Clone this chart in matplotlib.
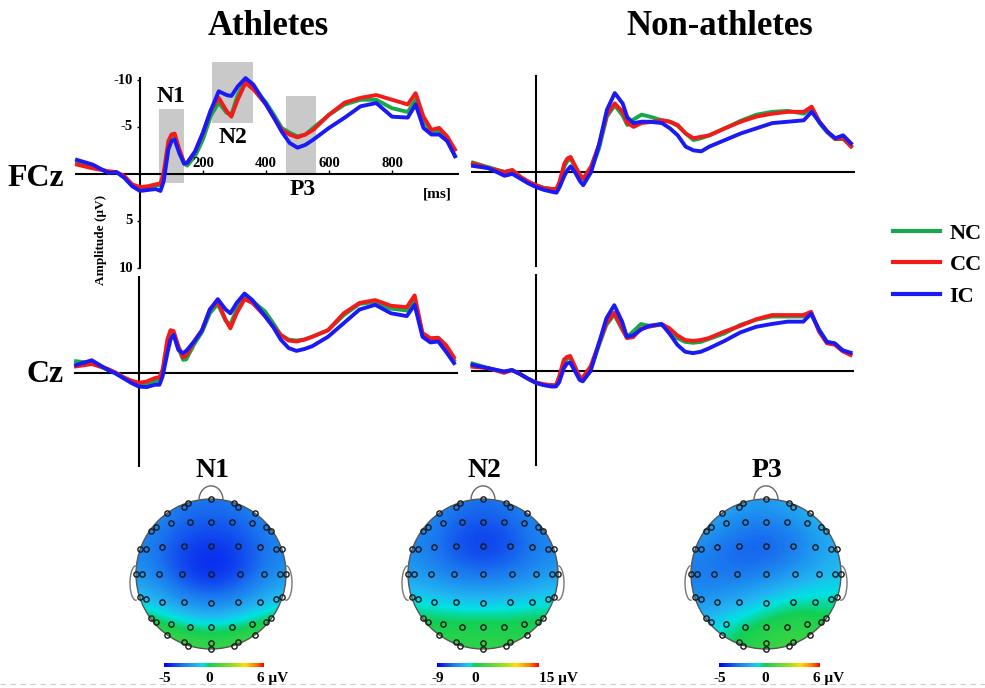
import numpy as np
import matplotlib
matplotlib.use('Agg')
from matplotlib import pyplot as plt
from matplotlib.patches import Rectangle, Circle
from matplotlib.colors import LinearSegmentedColormap, Normalize
from matplotlib.lines import Line2D

# ---- ERP data (microvolts) ----
time_ms = [-200, -150, -100, -75, -50, -25, 0, 25, 50, 65, 75, 90, 100, 110, 125, 140, 150, 175,
           200, 225, 250, 275, 290, 310, 335, 360, 400, 425, 450, 475, 500, 525, 550, 600, 650,
           700, 750, 800, 850, 875, 900, 925, 950, 975, 1000]

# Athletes, FCz
ath_fcz_nc = [-1.2, -0.8, -0.2, -0.2, 0.3, 1.2, 1.5, 1.4, 1.2, 1.2, 0.2, -3.0, -3.9, -4.0, -2.5, -1.1, -0.9, -1.9,
              -3.7, -6.2, -7.6, -6.5, -6.3, -8.4, -9.9, -9.2, -7.6, -6.3, -4.9, -4.4, -4.0, -4.2, -4.9, -6.3, -7.4,
              -7.9, -7.9, -7.0, -6.6, -7.9, -5.7, -4.5, -4.5, -3.8, -1.9]
ath_fcz_cc = [-1.0, -0.6, -0.3, -0.2, 0.2, 1.1, 1.4, 1.3, 1.1, 1.0, -0.1, -3.5, -4.2, -4.3, -2.6, -1.2, -1.2, -2.4,
              -4.4, -6.8, -8.1, -6.7, -6.1, -7.9, -9.7, -9.0, -7.4, -6.0, -4.7, -4.2, -3.9, -4.2, -4.7, -6.3, -7.6,
              -8.1, -8.4, -7.9, -7.4, -8.6, -6.1, -4.7, -4.9, -4.0, -2.6]
ath_fcz_ic = [-1.5, -1.0, -0.1, -0.2, 0.4, 1.3, 1.8, 1.7, 1.6, 1.8, 0.8, -2.6, -3.5, -3.65, -2.2, -1.1, -1.2, -2.4,
              -4.4, -6.8, -8.8, -8.4, -8.3, -9.3, -10.2, -9.5, -7.4, -6.0, -4.5, -3.3, -2.8, -3.1, -3.65, -4.9, -6.0,
              -7.2, -7.55, -6.1, -6.0, -7.4, -4.9, -4.2, -4.2, -3.5, -1.9]

# Non-athletes, FCz
non_fcz_nc = [-1.0, -0.5, 0.0, -0.2, 0.5, 1.1, 1.4, 1.7, 1.8, 1.8, 1.2, -0.6, -1.2, -1.4, -0.5, 0.5, 0.8, -0.2,
              -2.5, -5.9, -7.1, -6.0, -5.0, -5.6, -6.1, -5.9, -5.5, -5.35, -4.9, -4.1, -3.4, -3.6, -3.9, -4.65, -5.45,
              -6.1, -6.4, -6.5, -6.2, -6.8, -5.2, -4.2, -3.5, -3.5, -2.8]
non_fcz_cc = [-0.9, -0.4, 0.0, -0.2, 0.5, 1.0, 1.4, 1.7, 1.8, 1.8, 1.0, -0.9, -1.45, -1.6, -0.6, 0.3, 0.7, -0.6,
              -2.9, -6.1, -7.3, -6.4, -5.2, -4.8, -5.2, -5.3, -5.5, -5.35, -5.0, -4.1, -3.6, -3.75, -3.9, -4.65, -5.35,
              -5.9, -6.2, -6.4, -6.4, -6.95, -5.35, -4.3, -3.5, -3.6, -2.7]
non_fcz_ic = [-0.65, -0.4, 0.4, 0.2, 0.7, 1.2, 1.6, 1.9, 2.1, 2.2, 1.6, 0.4, -0.2, -0.6, 0.1, 1.0, 1.4, 0.0,
              -2.9, -6.6, -8.4, -7.3, -5.8, -5.2, -5.35, -5.35, -5.2, -4.65, -3.9, -2.7, -2.3, -2.2, -2.7, -3.4, -4.1,
              -4.65, -5.2, -5.35, -5.5, -6.4, -5.3, -4.3, -3.6, -3.9, -3.05]

# Athletes, Cz
ath_cz_nc = [-1.2, -1.0, -0.3, 0.0, 0.5, 0.95, 1.25, 1.2, 0.9, 0.9, 0.0, -3.0, -4.1, -4.1, -2.6, -1.35, -1.4, -3.0,
             -4.3, -6.3, -7.3, -5.5, -5.1, -6.7, -8.1, -7.6, -6.5, -5.3, -4.0, -3.5, -3.4, -3.5, -3.8, -4.5, -6.1,
             -7.3, -7.5, -6.8, -6.6, -7.6, -4.0, -3.5, -3.6, -2.7, -1.3]
ath_cz_cc = [-0.65, -0.9, -0.4, 0.0, 0.5, 0.85, 1.1, 0.95, 0.6, 0.5, -0.3, -3.5, -4.5, -4.4, -2.8, -1.6, -1.8, -3.3,
             -4.5, -6.7, -7.55, -5.6, -4.7, -6.3, -7.8, -7.4, -6.0, -4.9, -4.0, -3.4, -3.3, -3.5, -3.8, -4.5, -6.3,
             -7.4, -7.7, -7.1, -6.95, -8.2, -4.2, -3.65, -3.7, -2.9, -1.6]
ath_cz_ic = [-0.8, -1.3, -0.3, 0.1, 0.6, 1.1, 1.5, 1.55, 1.3, 1.3, 0.4, -2.05, -3.5, -4.0, -2.4, -2.05, -2.3, -3.3,
             -4.5, -6.7, -7.8, -6.7, -6.3, -7.4, -8.4, -7.7, -6.0, -4.9, -3.5, -2.6, -2.3, -2.5, -2.8, -3.8, -5.25,
             -6.7, -7.2, -6.3, -6.0, -7.2, -3.8, -3.2, -3.3, -2.2, -1.0]

# Non-athletes, Cz
non_cz_nc = [-0.8, -0.3, 0.1, -0.1, 0.3, 0.8, 1.2, 1.45, 1.55, 1.55, 0.8, -0.9, -1.3, -1.4, -0.4, 0.7, 0.9, -0.2,
             -2.6, -4.9, -6.0, -4.4, -3.6, -4.2, -5.0, -4.8, -4.9, -4.4, -3.5, -3.1, -3.0, -3.1, -3.4, -4.0, -4.9,
             -5.45, -5.8, -5.8, -5.8, -6.1, -4.4, -3.1, -2.9, -2.2, -1.8]
non_cz_cc = [-0.45, -0.3, 0.2, -0.1, 0.3, 0.8, 1.2, 1.4, 1.5, 1.5, 0.6, -1.2, -1.5, -1.6, -0.5, 0.6, 0.7, -0.5,
             -2.8, -5.1, -6.2, -4.55, -3.5, -3.6, -4.5, -4.7, -5.0, -4.55, -3.8, -3.3, -3.2, -3.3, -3.5, -4.2, -4.8,
             -5.5, -5.95, -5.95, -5.95, -6.3, -4.2, -2.95, -2.8, -2.1, -1.7]
non_cz_ic = [-0.65, -0.3, 0.05, -0.1, 0.3, 0.8, 1.25, 1.5, 1.65, 1.65, 1.2, -0.3, -0.8, -0.9, 0.0, 0.95, 1.1, 0.0,
             -2.8, -5.6, -7.0, -5.25, -3.65, -3.8, -4.4, -4.8, -5.0, -4.0, -2.8, -2.05, -1.9, -2.05, -2.4, -3.2, -4.1,
             -4.7, -5.0, -5.25, -5.25, -6.1, -4.4, -3.1, -2.95, -2.2, -1.95]

conditions = ['NC', 'CC', 'IC']
cond_colors = ['#17a84b', '#f51a1a', '#1a1af5']

# component windows: (label, start ms, end ms, most negative uV, most positive uV)
windows = [('N1', 60, 140, -6.9, 1.0), ('N2', 230, 360, -11.9, -5.4), ('P3', 465, 560, -8.3, 0.0)]

# ---- topographic maps: coarse 5x5 grids of potential (uV), rows front -> back ----
topo_names = ['N1', 'N2', 'P3']
topo_ranges = [(-5, 6), (-9, 15), (-5, 6)]
topo_n1 = [[-2.0, -2.8, -3.0, -2.8, -2.0],
           [-2.6, -3.7, -4.1, -3.7, -2.6],
           [-2.3, -3.9, -4.7, -3.9, -2.3],
           [-0.7, -1.9, -2.6, -1.9, -0.7],
           [1.6, 1.2, 0.8, 1.2, 1.6]]
topo_n2 = [[-3.5, -5.0, -5.5, -5.0, -3.5],
           [-4.5, -6.5, -7.8, -6.5, -4.5],
           [-3.8, -5.3, -5.8, -5.3, -3.8],
           [-0.7, -1.2, -1.4, -1.2, -0.7],
           [1.2, 1.5, 1.6, 1.5, 1.2]]
topo_p3 = [[-1.0, -1.8, -2.0, -1.5, -0.8],
           [-2.2, -3.3, -3.7, -3.0, -1.6],
           [-3.0, -3.2, -2.8, -2.0, -1.3],
           [-2.0, -1.4, -0.5, 0.0, -0.3],
           [-0.8, 0.3, 0.8, 1.0, 0.6]]

W, H = 985, 688
fig = plt.figure(figsize=(W / 100, H / 100), dpi=100)
serif = 'Liberation Serif'


def px_axes(x0, y0, x1, y1):
    ax = fig.add_axes([x0 / W, 1 - y1 / H, (x1 - x0) / W, (y1 - y0) / H])
    ax.set_facecolor('none')
    return ax


def ftext(x, y, s, **kw):
    kw.setdefault('family', serif)
    kw.setdefault('weight', 'bold')
    fig.text(x / W, 1 - y / H, s, **kw)


PX_MS, PX_UV = 0.315, 9.4
T_LO, T_HI = -215, 1020
UV_TOP, UV_BOT = -12.5, 10.8


def wave_axes(x_zero, y_zero):
    ax = px_axes(x_zero + T_LO * PX_MS, y_zero + UV_TOP * PX_UV,
                 x_zero + T_HI * PX_MS, y_zero + UV_BOT * PX_UV)
    ax.set_xlim(T_LO, T_HI)
    ax.set_ylim(UV_BOT, UV_TOP)
    ax.axis('off')
    ax.hlines(0, -205, 1012, color='black', lw=1.5, zorder=1)
    ax.vlines(0, -10.3, 10.1, color='black', lw=1.5, zorder=1)
    return ax


def draw_waves(ax, series):
    for vals, col in zip(series, cond_colors):
        ax.plot(time_ms, vals, color=col, lw=2.8, solid_joinstyle='round', zorder=3)


ax_af = wave_axes(140, 174)
ax_nf = wave_axes(536, 172)
ax_ac = wave_axes(139, 372.5)
ax_nc = wave_axes(535.5, 371)

draw_waves(ax_af, [ath_fcz_nc, ath_fcz_cc, ath_fcz_ic])
draw_waves(ax_nf, [non_fcz_nc, non_fcz_cc, non_fcz_ic])
draw_waves(ax_ac, [ath_cz_nc, ath_cz_cc, ath_cz_ic])
draw_waves(ax_nc, [non_cz_nc, non_cz_cc, non_cz_ic])

# gray component windows + labels on the athletes FCz panel
for name, t0, t1, lo, hi in windows:
    ax_af.add_patch(Rectangle((t0, lo), t1 - t0, hi - lo, facecolor='#c9c9c9',
                              edgecolor='none', zorder=0, clip_on=False))
ax_af.text(97, -7.7, 'N1', ha='center', va='baseline', family=serif, weight='bold', fontsize=17)
ax_af.text(295, -3.3, 'N2', ha='center', va='baseline', family=serif, weight='bold', fontsize=17)
ax_af.text(518, 2.2, 'P3', ha='center', va='baseline', family=serif, weight='bold', fontsize=17)
ax_af.text(945, 2.55, '[ms]', ha='center', va='baseline', family=serif, weight='bold', fontsize=11)

for t in [200, 400, 600, 800]:
    ax_af.vlines(t, -0.45, 0, color='black', lw=1)
    ax_af.text(t, -1.15, str(t), ha='center', va='center', family=serif, weight='bold', fontsize=10.5)
for v in [-10, -5, 5, 10]:
    ax_af.hlines(v, -10, 0, color='black', lw=1)
    ax_af.text(-22, v, str(v), ha='right', va='center', family=serif, weight='bold', fontsize=10.5)

ftext(101, 240, 'Amplitude (μV)', rotation=90, ha='center', va='center', fontsize=9.5)

# titles and electrode labels
ftext(268, 35, 'Athletes', ha='center', va='baseline', fontsize=25)
ftext(720, 35, 'Non-athletes', ha='center', va='baseline', fontsize=25)
ftext(64, 186, 'FCz', ha='right', va='baseline', fontsize=23)
ftext(64, 382, 'Cz', ha='right', va='baseline', fontsize=23)

# legend
handles = [Line2D([], [], color=c, lw=3) for c in cond_colors]
fig.legend(handles, conditions, loc='center left', bbox_to_anchor=(873 / W, 1 - 265 / H),
           frameon=False, handlelength=2.1, handletextpad=0.45, labelspacing=0.5,
           prop={'family': serif, 'weight': 'bold', 'size': 16})


# ---- scalp maps ----
def topo_cmap(f0):
    nodes = [(0.0, '#0000ee'), (0.40 * f0, '#1a74ee'), (0.72 * f0, '#22b6f2'),
             (0.86 * f0, '#00e2e2'), (f0, '#12cf55'),
             (f0 + 0.45 * (1 - f0), '#9ae21c'), (f0 + 0.65 * (1 - f0), '#fde000'),
             (f0 + 0.85 * (1 - f0), '#ff8000'), (1.0, '#ff0000')]
    return LinearSegmentedColormap.from_list('topo', nodes)


half = [(-0.31, 0.95), (-0.36, 0.89), (-0.59, 0.81), (-0.54, 0.68), (-0.28, 0.70), (-0.80, 0.58),
        (-0.73, 0.63), (-0.95, 0.33), (-0.87, 0.33), (-0.65, 0.36), (-0.36, 0.37), (-1.0, 0.0),
        (-0.92, 0.0), (-0.70, 0.0), (-0.39, 0.0), (-0.95, -0.30), (-0.87, -0.33), (-0.65, -0.37),
        (-0.36, -0.37), (-0.80, -0.59), (-0.73, -0.64), (-0.54, -0.67), (-0.28, -0.70),
        (-0.59, -0.81), (-0.36, -0.91), (-0.31, -0.96)]
midline = [(0, 1.0), (0, 0.70), (0, 0.38), (0, 0.0), (0, -0.39), (0, -0.71), (0, -0.92), (0, -1.0)]
elec = np.array(half + [(-x, y) for x, y in half] + midline)

head_centers = [(211, 574), (483, 574), (766, 574)]
bar_spans = [(164, 264), (437, 538), (719, 820)]
unit_x = [257, 539, 813]
R = 75

for name, grid, (vmin, vmax), (cx, cy), (b0, b1), ux in zip(
        topo_names, [topo_n1, topo_n2, topo_p3], topo_ranges, head_centers, bar_spans, unit_x):
    f0 = -vmin / (vmax - vmin)
    cmap = topo_cmap(f0)
    norm = Normalize(vmin, vmax)
    box = 1.3 * R
    ax = px_axes(cx - box, cy - box, cx + box, cy + box)
    ax.set_xlim(-1.3, 1.3)
    ax.set_ylim(-1.3, 1.3)
    ax.axis('off')
    im = ax.imshow(np.array(grid), cmap=cmap, norm=norm, extent=(-1.1, 1.1, -1.1, 1.1),
                   origin='upper', interpolation='bicubic', zorder=1)
    im.set_clip_path(Circle((0, 0), 1.0, transform=ax.transData))
    ax.add_patch(Circle((0, 0), 1.0, fill=False, edgecolor='#555555', lw=1.0, zorder=2))
    th = np.linspace(0, np.pi, 60)
    ax.plot(0.16 * np.cos(th), 0.985 + 0.19 * np.sin(th), color='#666666', lw=1.0)
    th = np.linspace(np.pi / 2, 1.5 * np.pi, 60)
    ax.plot(-1.0 + 0.08 * np.cos(th), -0.12 + 0.23 * np.sin(th), color='#777777', lw=1.0)
    ax.plot(1.0 - 0.08 * np.cos(th), -0.12 + 0.23 * np.sin(th), color='#777777', lw=1.0)
    ax.plot(elec[:, 0], elec[:, 1], 'o', ms=3.8, mfc='none', mec='#1a1a1a', mew=1.0, zorder=3)

    ftext(cx + 1, 477, name, ha='center', va='baseline', fontsize=20)

    cax = px_axes(b0, 663, b1, 667)
    cax.imshow(np.linspace(vmin, vmax, 256)[None, :], cmap=cmap, norm=norm, aspect='auto',
               extent=(vmin, vmax, 0, 1))
    cax.set_xlim(vmin, vmax)
    cax.axis('off')
    ftext(b0 + 1, 682, str(vmin), ha='center', va='baseline', fontsize=11)
    ftext(b0 + f0 * (b1 - b0), 682, '0', ha='center', va='baseline', fontsize=11)
    ftext(ux, 682, f'{vmax} μV', ha='left', va='baseline', fontsize=11)

# dashed separator at the bottom
fig.add_artist(Line2D([0, 1], [1 - 684 / H, 1 - 684 / H], color='#cccccc', lw=0.8,
                      ls=(0, (5, 4)), transform=fig.transFigure))

fig.savefig('out.png', dpi=100)
